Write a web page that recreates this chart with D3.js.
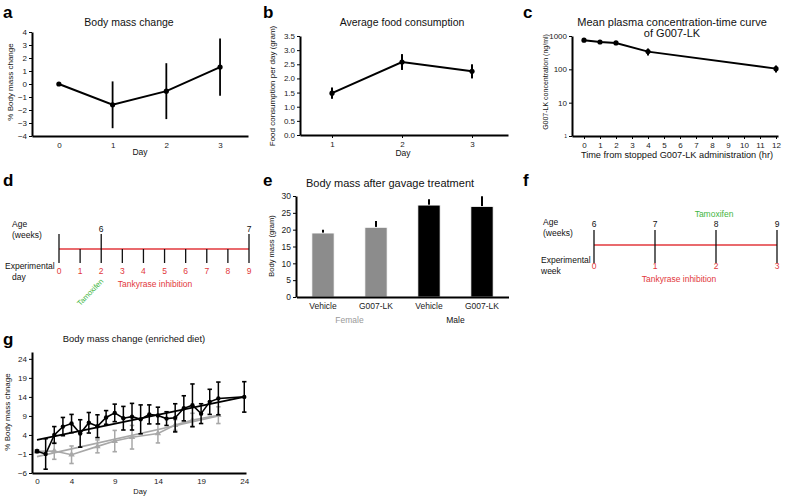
<!DOCTYPE html>
<html>
<head>
<meta charset="utf-8">
<title>G007-LK figure</title>
<script src="https://d3js.org/d3.v7.min.js"></script>
<style>
  body { margin: 0; background: #fff; }
  text { font-family: "Liberation Sans", Arial, sans-serif; }
  .axis .domain { stroke: #000; stroke-width: 2; }
  .axis .tick line { stroke: #000; stroke-width: 1; }
  .axis .tick text { font-size: 8px; fill: #222; }
</style>
</head>
<body>
<script>
// ---- data ----
// a: body mass change
var aDays = [0, 1, 2, 3];
var aMean = [0, -1.6, -0.55, 1.3];
var aErr = [0, 1.8, 2.15, 2.2];

// b: food consumption
var bDays = [1, 2, 3];
var bMean = [1.48, 2.58, 2.25];
var bErr = [0.2, 0.28, 0.25];

// c: plasma concentration
var cHours = [0, 1, 2, 4, 12];
var cMean = [750, 660, 620, 340, 105];
var cErr = [40, 40, 40, 80, 25];

// e: body mass after gavage
var eGroups = ["F-Vehicle", "F-G007-LK", "M-Vehicle", "M-G007-LK"];
var eLabels = ["Vehicle", "G007-LK", "Vehicle", "G007-LK"];
var eMean = [19, 20.7, 27.3, 26.9];
var eErr = [1.0, 1.9, 1.7, 3.0];

// d / f timelines
var dDays = [0, 1, 2, 3, 4, 5, 6, 7, 8, 9];
var dAgeDays = [2, 9];
var dAgeLabels = ["6", "7"];
var fWeeks = [0, 1, 2, 3];
var fAges = ["6", "7", "8", "9"];

// g: enriched diet
var gDaysBlack = [0, 1, 2, 3, 4, 5, 6, 7, 8, 9, 10, 11, 12, 13, 14, 15, 16, 17, 18, 19, 20, 21, 24];
var gBlack = [-0.3, -1, 4, 6.2, 7, 4.4, 7.2, 6.3, 8.6, 9.8, 8.4, 8.8, 8.1, 9.4, 9.1, 8.3, 8.5, 11, 11.8, 9.6, 12.7, 13.6, 14];
var gBlackErr = [0.3, 4, 2.2, 2.4, 2.4, 3.6, 2.7, 3, 1.8, 2.3, 3.1, 3.5, 3.8, 2.5, 2.2, 1.8, 3.7, 3.3, 5.6, 2.6, 3.3, 4.3, 4];
var gDaysGray = [0, 2, 4, 7, 9, 11, 14, 16, 18, 21];
var gGray = [-0.3, -0.2, -1.2, 1, 2.4, 3.4, 4.4, 6.6, 7.9, 9.2];
var gGrayErr = [0.3, 2.2, 2.3, 1.7, 2.8, 3.1, 2.5, 1.4, 1.8, 2.2];
var gTrendBlackDays = [0, 24];
var gTrendBlack = [2.7, 14];
var gTrendGrayDays = [0, 21];
var gTrendGray = [-1.7, 9.0];

var red = "#e2383c", green = "#3fb63f", grayBar = "#8c8c8c";

var svg = d3.select("body").append("svg")
    .attr("width", 785)
    .attr("height", 500);

function letter(t, x, y) {
  svg.append("text").attr("x", x).attr("y", y)
    .attr("font-size", 17).attr("font-weight", "bold").text(t);
}
function label(t, x, y, size, opts) {
  opts = opts || {};
  var el = svg.append("text").attr("x", x).attr("y", y)
    .attr("font-size", size)
    .attr("text-anchor", opts.anchor || "middle")
    .attr("fill", opts.fill || "#111")
    .text(t);
  if (opts.rotate) el.attr("transform", "rotate(" + opts.rotate + "," + x + "," + y + ")");
  return el;
}
function errLines(g, xs, ys, es, x, y, color, cap, width) {
  g.selectAll(null).data(xs).enter().append("line")
    .attr("x1", function(d){ return x(d); })
    .attr("x2", function(d){ return x(d); })
    .attr("y1", function(d,i){ return y(ys[i] + es[i]); })
    .attr("y2", function(d,i){ return y(ys[i] - es[i]); })
    .attr("stroke", color).attr("stroke-width", width || 1.6);
  if (cap) {
    [1, -1].forEach(function(s) {
      g.selectAll(null).data(xs).enter().append("line")
        .attr("x1", function(d){ return x(d) - cap; })
        .attr("x2", function(d){ return x(d) + cap; })
        .attr("y1", function(d,i){ return y(ys[i] + s * es[i]); })
        .attr("y2", function(d,i){ return y(ys[i] + s * es[i]); })
        .attr("stroke", color).attr("stroke-width", 1.6);
    });
  }
}

// ===== a =====
letter("a", 3, 18);
label("Body mass change", 129, 26, 10.5);
var ax = d3.scaleLinear().domain([-0.5, 3.52]).range([32, 248]);
var ay = d3.scaleLinear().domain([-4, 4]).range([136, 32]);
svg.append("g").attr("class", "axis").attr("transform", "translate(0,136)")
  .call(d3.axisBottom(ax).tickValues(aDays).tickSize(0).tickPadding(6).tickFormat(d3.format("d")));
svg.append("g").attr("class", "axis").attr("transform", "translate(32,0)")
  .call(d3.axisLeft(ay).tickValues(d3.range(-4, 5)).tickSize(3).tickSizeOuter(0).tickPadding(2));
label("Day", 140, 155, 8.5);
label("% Body mass change", 13, 82, 8, {rotate: -90});
var ga = svg.append("g");
errLines(ga, aDays, aMean, aErr, ax, ay, "#000", 0, 1.8);
ga.append("path").datum(aDays)
  .attr("d", d3.line().x(function(d){ return ax(d); }).y(function(d,i){ return ay(aMean[i]); }))
  .attr("fill", "none").attr("stroke", "#000").attr("stroke-width", 2);
ga.selectAll(null).data(aDays).enter().append("circle")
  .attr("cx", function(d){ return ax(d); }).attr("cy", function(d,i){ return ay(aMean[i]); })
  .attr("r", 2.6).attr("fill", "#000");

// ===== b =====
letter("b", 263, 18);
label("Average food consumption", 402, 26, 10.5);
var bx = d3.scaleLinear().domain([0.543, 3.514]).range([300, 508]);
var by = d3.scaleLinear().domain([0, 3.5]).range([135, 36]);
svg.append("g").attr("class", "axis").attr("transform", "translate(0,135)")
  .call(d3.axisBottom(bx).tickValues(bDays).tickSize(3).tickSizeOuter(0).tickFormat(d3.format("d")));
svg.append("g").attr("class", "axis").attr("transform", "translate(300,0)")
  .call(d3.axisLeft(by).tickValues(d3.range(0, 3.6, 0.5)).tickSize(3).tickSizeOuter(0).tickPadding(2).tickFormat(d3.format(".1f")));
label("Day", 403, 156, 8.5);
label("Food consumption per day (gram)", 275, 86, 8, {rotate: -90});
var gb = svg.append("g");
errLines(gb, bDays, bMean, bErr, bx, by, "#000", 0, 2);
gb.append("path").datum(bDays)
  .attr("d", d3.line().x(function(d){ return bx(d); }).y(function(d,i){ return by(bMean[i]); }))
  .attr("fill", "none").attr("stroke", "#000").attr("stroke-width", 2);
gb.selectAll(null).data(bDays).enter().append("circle")
  .attr("cx", function(d){ return bx(d); }).attr("cy", function(d,i){ return by(bMean[i]); })
  .attr("r", 2.6).attr("fill", "#000");

// ===== c =====
letter("c", 523, 18);
label("Mean plasma concentration-time curve", 672, 26, 11);
label("of G007-LK", 672, 37, 11);
var cx = d3.scaleLinear().domain([-0.75, 12.125]).range([572, 778]);
var cy = d3.scaleLog().domain([1, 1000]).range([136, 36]);
svg.append("g").attr("class", "axis").attr("transform", "translate(0,136)")
  .call(d3.axisBottom(cx).tickValues(d3.range(0, 13)).tickSize(3).tickSizeOuter(0).tickFormat(d3.format("d")));
var cyAxis = svg.append("g").attr("class", "axis").attr("transform", "translate(572,0)")
  .call(d3.axisLeft(cy).tickValues([1, 10, 100, 1000]).tickSize(3).tickSizeOuter(0).tickPadding(2).tickFormat(d3.format("d")));
cyAxis.selectAll(".tick text").filter(function(d){ return d === 1; }).style("font-size", "5px");
label("Time from stopped G007-LK administration (hr)", 677, 158, 9.2);
label("G007-LK concentration (ng/ml)", 548, 82, 7, {rotate: -90});
var gc = svg.append("g");
errLines(gc, cHours, cMean, cErr, cx, cy, "#000", 0, 2);
gc.append("path").datum(cHours)
  .attr("d", d3.line().x(function(d){ return cx(d); }).y(function(d,i){ return cy(cMean[i]); }))
  .attr("fill", "none").attr("stroke", "#000").attr("stroke-width", 2);
gc.selectAll(null).data(cHours).enter().append("circle")
  .attr("cx", function(d){ return cx(d); }).attr("cy", function(d,i){ return cy(cMean[i]); })
  .attr("r", 2.6).attr("fill", "#000");

// ===== d =====
letter("d", 3, 186);
var dx = d3.scaleLinear().domain([0, 9]).range([59, 249]);
var dLineY = 249;
svg.append("line").attr("x1", dx(0)).attr("x2", dx(9)).attr("y1", dLineY).attr("y2", dLineY)
  .attr("stroke", red).attr("stroke-width", 1.6);
svg.selectAll(null).data(dDays).enter().append("line")
  .attr("x1", function(d){ return dx(d); }).attr("x2", function(d){ return dx(d); })
  .attr("y1", function(d){ return (d === 0 || dAgeDays.indexOf(d) >= 0) ? 234 : dLineY; })
  .attr("y2", 263).attr("stroke", "#111").attr("stroke-width", 1.3);
svg.selectAll(null).data(dDays).enter().append("text")
  .attr("x", function(d){ return dx(d); }).attr("y", 274)
  .attr("text-anchor", "middle").attr("font-size", 8.5).attr("fill", red)
  .text(function(d){ return d; });
svg.selectAll(null).data(dAgeDays).enter().append("text")
  .attr("x", function(d){ return dx(d); }).attr("y", 232)
  .attr("text-anchor", "middle").attr("font-size", 8.5).attr("fill", "#111")
  .text(function(d,i){ return dAgeLabels[i]; });
label("Age", 12, 227, 8.5, {anchor: "start"});
label("(weeks)", 12, 238, 8.5, {anchor: "start"});
label("Experimental", 5, 269, 8.5, {anchor: "start"});
label("day", 12, 280, 8.5, {anchor: "start"});
label("Tankyrase inhibition", 155, 287, 8.5, {fill: red});
label("Tamoxifen", 92, 294, 7.5, {fill: green, rotate: -46});

// ===== e =====
letter("e", 263, 186);
label("Body mass after gavage treatment", 390, 187, 11);
var ex = d3.scaleBand().domain(eGroups).range([296.5, 508.5]).paddingInner(0.58).paddingOuter(0.29);
var ey = d3.scaleLinear().domain([0, 30]).range([297, 196]);
var ge = svg.append("g");
ge.selectAll(null).data(eGroups).enter().append("line")
  .attr("x1", function(d){ return ex(d) + ex.bandwidth() / 2; })
  .attr("x2", function(d){ return ex(d) + ex.bandwidth() / 2; })
  .attr("y1", function(d,i){ return ey(eMean[i]); })
  .attr("y2", function(d,i){ return ey(eMean[i] + eErr[i]); })
  .attr("stroke", "#000").attr("stroke-width", 2);
ge.selectAll(null).data(eGroups).enter().append("rect")
  .attr("x", function(d){ return ex(d); })
  .attr("width", ex.bandwidth())
  .attr("y", function(d,i){ return ey(eMean[i]); })
  .attr("height", function(d,i){ return ey(0) - ey(eMean[i]); })
  .attr("fill", function(d,i){ return i < 2 ? grayBar : "#000"; })
  .attr("stroke", "#fff").attr("stroke-width", 0.8);
svg.append("g").attr("class", "axis").attr("transform", "translate(0,297)")
  .call(d3.axisBottom(ex).tickSize(0).tickPadding(6).tickFormat(function(d,i){ return eLabels[i]; }))
  .call(function(g){ g.selectAll(".tick text").style("font-size", "8.5px"); });
svg.append("g").attr("class", "axis").attr("transform", "translate(296,0)")
  .call(d3.axisLeft(ey).tickValues(d3.range(0, 31, 5)).tickSize(3).tickSizeOuter(0).tickPadding(2))
  .call(function(g){ g.selectAll(".tick text").style("font-size", "8.5px"); });
label("Body mass (gram)", 274, 246, 7.5, {rotate: -90});
label("Female", (ex(eGroups[0]) + ex(eGroups[1]) + ex.bandwidth()) / 2, 323, 8.5, {fill: "#999"});
label("Male", (ex(eGroups[2]) + ex(eGroups[3]) + ex.bandwidth()) / 2, 323, 8.5, {fill: "#111"});

// ===== f =====
letter("f", 523, 186);
var fx = d3.scaleLinear().domain([0, 3]).range([594, 777]);
var fLineY = 245;
svg.append("line").attr("x1", fx(0)).attr("x2", fx(3)).attr("y1", fLineY).attr("y2", fLineY)
  .attr("stroke", red).attr("stroke-width", 1.6);
svg.selectAll(null).data(fWeeks).enter().append("line")
  .attr("x1", function(d){ return fx(d); }).attr("x2", function(d){ return fx(d); })
  .attr("y1", 230).attr("y2", 263).attr("stroke", "#111").attr("stroke-width", 1.3);
svg.selectAll(null).data(fWeeks).enter().append("text")
  .attr("x", function(d){ return fx(d); }).attr("y", 269)
  .attr("text-anchor", "middle").attr("font-size", 8.5).attr("fill", red)
  .text(function(d){ return d; });
svg.selectAll(null).data(fWeeks).enter().append("text")
  .attr("x", function(d){ return fx(d); }).attr("y", 227)
  .attr("text-anchor", "middle").attr("font-size", 8.5).attr("fill", "#111")
  .text(function(d,i){ return fAges[i]; });
label("Age", 543, 225, 8.5, {anchor: "start"});
label("(weeks)", 543, 236, 8.5, {anchor: "start"});
label("Experimental", 541, 263, 8.5, {anchor: "start"});
label("week", 541, 274, 8.5, {anchor: "start"});
label("Tamoxifen", 714, 217, 8.5, {fill: green});
label("Tankyrase inhibition", 679, 282, 8.5, {fill: red});

// ===== g =====
letter("g", 3, 345);
label("Body mass change (enriched diet)", 134, 342, 9.4);
var gx = d3.scaleLinear().domain([-0.58, 24.2]).range([32, 246]);
var gy = d3.scaleLinear().domain([-6, 25.8]).range([473, 352]);
svg.append("g").attr("class", "axis").attr("transform", "translate(0,473)")
  .call(d3.axisBottom(gx).tickValues([0, 4, 9, 14, 19, 24]).tickSize(0).tickPadding(5));
svg.append("g").attr("class", "axis").attr("transform", "translate(32,0)")
  .call(d3.axisLeft(gy).tickValues([-6, -1, 4, 9, 14, 19, 24]).tickSize(3).tickSizeOuter(0).tickPadding(2));
label("Day", 140, 494, 7.5);
label("% Body mass chnage", 10, 412, 8, {rotate: -90});
var gg = svg.append("g");
var lineG = function(days, vals) {
  return d3.line().x(function(d){ return gx(d); }).y(function(d,i){ return gy(vals[i]); })(days);
};
var grayC = "#a8a8a8";
errLines(gg, gDaysGray, gGray, gGrayErr, gx, gy, grayC, 2.2, 1.5);
gg.append("path").attr("d", lineG(gTrendGrayDays, gTrendGray))
  .attr("fill", "none").attr("stroke", grayC).attr("stroke-width", 1.6);
gg.append("path").attr("d", lineG(gDaysGray, gGray))
  .attr("fill", "none").attr("stroke", grayC).attr("stroke-width", 1.6);
gg.selectAll(null).data(gDaysGray).enter().append("path")
  .attr("d", d3.symbol().type(d3.symbolTriangle).size(18))
  .attr("transform", function(d,i){ return "translate(" + gx(d) + "," + gy(gGray[i]) + ")"; })
  .attr("fill", grayC);
errLines(gg, gDaysBlack, gBlack, gBlackErr, gx, gy, "#000", 2.2, 1.5);
gg.append("path").attr("d", lineG(gTrendBlackDays, gTrendBlack))
  .attr("fill", "none").attr("stroke", "#000").attr("stroke-width", 1.6);
gg.append("path").attr("d", lineG(gDaysBlack, gBlack))
  .attr("fill", "none").attr("stroke", "#000").attr("stroke-width", 1.6);
gg.selectAll(null).data(gDaysBlack).enter().append("circle")
  .attr("cx", function(d){ return gx(d); }).attr("cy", function(d,i){ return gy(gBlack[i]); })
  .attr("r", 2.2).attr("fill", "#000");
</script>
</body>
</html>
